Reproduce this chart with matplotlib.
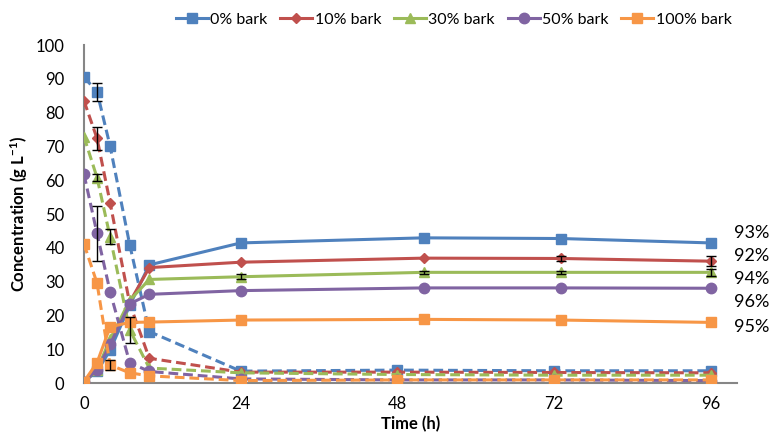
import matplotlib
matplotlib.use("Agg")
import matplotlib.pyplot as plt

# ==================== DATOS ====================
t_cons = [0, 2, 4, 7, 10, 24, 48, 72, 96]      # curvas a trazos (consumo)
t_prod = [0, 2, 4, 7, 10, 24, 52, 73, 96]      # curvas continuas (produccion)

labels = ["0% bark", "10% bark", "30% bark", "50% bark", "100% bark"]
colors = ["#4F81BD", "#C0504D", "#9BBB59", "#8064A2", "#F79646"]
markers = ["s", "D", "^", "o", "s"]
msizes = [7.5, 5.5, 7, 7.5, 7.5]

cons_0 = [90.5, 86.2, 70.1, 41.0, 15.3, 3.6, 3.9, 3.7, 3.7]
cons_10 = [83.5, 72.4, 53.4, 23.6, 7.4, 3.3, 3.3, 3.2, 3.1]
cons_30 = [72.9, 60.8, 43.3, 15.8, 4.5, 3.1, 2.6, 2.4, 2.4]
cons_50 = [61.8, 44.3, 27.1, 6.1, 3.5, 1.3, 1.0, 1.0, 0.8]
cons_100 = [41.2, 29.6, 5.4, 3.1, 2.2, 0.8, 1.0, 1.0, 1.0]

prod_0 = [0.5, 3.5, 9.8, 23.0, 35.0, 41.5, 43.0, 42.8, 41.5]
prod_10 = [0.5, 4.0, 12.0, 24.0, 34.2, 35.8, 37.0, 36.9, 36.1]
prod_30 = [0.5, 4.0, 13.0, 24.5, 30.7, 31.5, 32.8, 32.8, 32.8]
prod_50 = [0.5, 4.0, 11.5, 23.5, 26.3, 27.4, 28.2, 28.2, 28.1]
prod_100 = [0.5, 6.1, 16.7, 18.0, 18.1, 18.7, 18.9, 18.7, 18.0]

err_cons_0 = [0, 2.6, 0, 0, 0, 0, 0, 0, 0]
err_cons_10 = [0, 3.5, 0, 0, 0, 0, 0, 0, 0]
err_cons_30 = [0, 1.0, 2.2, 3.8, 0, 0, 0, 0, 0]
err_cons_50 = [0, 8.2, 0, 0, 0, 0, 0, 0, 0]
err_cons_100 = [0, 0, 1.5, 0, 0, 0, 0, 0, 0]

err_prod_0 = [0, 0, 0, 0, 0, 0, 0, 0, 0]
err_prod_10 = [0, 0, 0, 0, 0, 0, 0, 0.8, 1.5]
err_prod_30 = [0, 0, 0, 0, 0, 0.8, 0.5, 0.5, 1.0]
err_prod_50 = [0, 0, 0, 0, 0, 0, 0, 0, 0]
err_prod_100 = [0, 0, 0, 0, 0, 0, 0, 0, 0]

rendimientos = ["93%", "92%", "94%", "96%", "95%"]
rend_y = [44.5, 37.5, 30.8, 24.0, 16.7]

cons = [cons_0, cons_10, cons_30, cons_50, cons_100]
prod = [prod_0, prod_10, prod_30, prod_50, prod_100]
err_cons = [err_cons_0, err_cons_10, err_cons_30, err_cons_50, err_cons_100]
err_prod = [err_prod_0, err_prod_10, err_prod_30, err_prod_50, err_prod_100]


def barras_error(ax, t, y, e):
    # solo los puntos que tienen barra de error
    idx = [k for k in range(len(e)) if e[k] > 0]
    if not idx:
        return
    ax.errorbar([t[k] for k in idx], [y[k] for k in idx], yerr=[e[k] for k in idx],
                fmt="none", ecolor="black", elinewidth=1, capsize=3.5, capthick=1, zorder=4)


# ==================== GRAFICO ====================
plt.rcParams["font.family"] = ["Lato", "DejaVu Sans"]
plt.rcParams["mathtext.default"] = "regular"

fig = plt.figure(figsize=(7.69, 4.44), dpi=100)
ax = fig.add_axes([0.1092, 0.1367, 0.8492, 0.7619])

dash = (0, (3.2, 1.6))
handles = []
for i in range(5):
    c = colors[i]
    barras_error(ax, t_cons, cons[i], err_cons[i])
    barras_error(ax, t_prod, prod[i], err_prod[i])
    ax.plot(t_cons, cons[i], color=c, linestyle=dash, linewidth=2.2,
            marker=markers[i], markersize=msizes[i], zorder=3)
    h, = ax.plot(t_prod, prod[i], color=c, linestyle="-", linewidth=2.2,
                 marker=markers[i], markersize=msizes[i], zorder=3, label=labels[i])
    handles.append(h)

for txt, yy in zip(rendimientos, rend_y):
    ax.text(99.5, yy, txt, fontsize=13, ha="left", va="center", clip_on=False)

ax.set_xlim(0, 100)
ax.set_ylim(0, 100)
ax.set_xticks([0, 24, 48, 72, 96])
ax.set_yticks(range(0, 101, 10))
ax.tick_params(axis="x", length=0, labelsize=12, pad=9)
ax.tick_params(axis="y", length=0, labelsize=12, pad=14)
for s in ["top", "right"]:
    ax.spines[s].set_visible(False)
for s in ["left", "bottom"]:
    ax.spines[s].set_color("#868686")
    ax.spines[s].set_linewidth(1.5)

ax.set_xlabel("Time (h)", fontsize=12, fontweight="bold", labelpad=3)
ax.set_ylabel("Concentration (g L$^{-1}$)", fontsize=12, fontweight="bold", labelpad=4)

fig.legend(handles=handles, loc="center", bbox_to_anchor=(0.59, 0.955), ncol=5,
           frameon=False, fontsize=11.5, handlelength=2.0, columnspacing=0.8,
           handletextpad=0.15)

fig.savefig("out.png", dpi=100)
